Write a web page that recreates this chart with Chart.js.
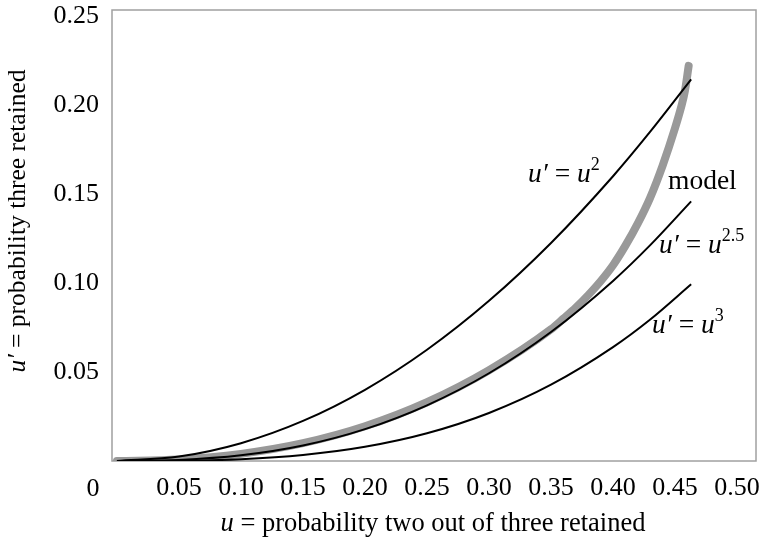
<!DOCTYPE html>
<html><head><meta charset="utf-8">
<script src="https://cdn.jsdelivr.net/npm/chart.js@4/dist/chart.umd.min.js"></script>
<style>html,body{margin:0;padding:0;background:#fff;}</style>
</head><body>
<canvas id="c" width="762" height="544"></canvas>
<script>
// ---- data ----
const xTickValues = [0.05, 0.10, 0.15, 0.20, 0.25, 0.30, 0.35, 0.40, 0.45, 0.50];
const yTickValues = [0.05, 0.10, 0.15, 0.20, 0.25];
const originLabel = "0";

const uPow   = [0, 0.05, 0.10, 0.15, 0.20, 0.25, 0.30, 0.35, 0.40, 0.43, 0.463];
const sq     = [0, 0.0025, 0.0100, 0.0225, 0.0400, 0.0625, 0.0900, 0.1225, 0.1600, 0.1850, 0.2144];
const pow25  = [0, 0.0006, 0.0032, 0.0087, 0.0179, 0.0313, 0.0493, 0.0725, 0.1012, 0.1213, 0.1459];
const cube   = [0, 0.0001, 0.0010, 0.0034, 0.0080, 0.0156, 0.0270, 0.0429, 0.0640, 0.0795, 0.0993];

const uModel = [0, 0.05, 0.10, 0.15, 0.20, 0.25, 0.30, 0.35, 0.36, 0.37, 0.38, 0.39, 0.40, 0.41, 0.42, 0.43, 0.44, 0.45, 0.455, 0.458, 0.461];
const model  = [0, 0.0008, 0.0040, 0.0100, 0.0195, 0.0330, 0.0510, 0.0740, 0.0800, 0.0862, 0.0932, 0.1010, 0.1100, 0.1210, 0.1335, 0.1480, 0.1660, 0.1870, 0.1990, 0.2080, 0.2220];

const FONT = '"Liberation Serif", "Times New Roman", serif';

function pts(xs, ys) { return xs.map((x, i) => ({x: x, y: ys[i]})); }

function drawRich(ctx, parts, x, y, size, align) {
  // parts: [text, style] style: 'i' italic, 'n' normal, 's' superscript
  const fontOf = st => st === 'i' ? `italic ${size}px ${FONT}` : st === 's' ? `${Math.round(size*0.65)}px ${FONT}` : `${size}px ${FONT}`;
  let total = 0;
  const widths = parts.map(p => { ctx.font = fontOf(p[1]); const w = ctx.measureText(p[0]).width; total += w; return w; });
  let cx = align === 'center' ? x - total / 2 : x;
  parts.forEach((p, i) => {
    ctx.font = fontOf(p[1]);
    ctx.fillText(p[0], cx, p[1] === 's' ? y - size * 0.42 : y);
    cx += widths[i];
  });
}

const textPlugin = {
  id: 'texts',
  beforeDatasetsDraw(chart) {
    const {ctx, chartArea: a} = chart;
    ctx.save();
    ctx.strokeStyle = '#a0a0a0';
    ctx.lineWidth = 1.5;
    ctx.strokeRect(a.left, a.top, a.right - a.left, a.bottom - a.top);
    ctx.restore();
  },
  afterDraw(chart) {
    const ctx = chart.ctx;
    ctx.save();
    ctx.fillStyle = '#000';
    ctx.textBaseline = 'alphabetic';
    // origin label
    ctx.font = `26px ${FONT}`;
    ctx.textAlign = 'center';
    ctx.fillText(originLabel, 93, 496);
    ctx.textAlign = 'left';
    // axis titles
    drawRich(ctx, [['u', 'i'], [' = probability two out of three retained', 'n']], 433, 531, 26.5, 'center');
    ctx.save();
    ctx.translate(25, 221);
    ctx.rotate(-Math.PI / 2);
    drawRich(ctx, [['u', 'i'], ['\u2032', 'i'], [' = probability three retained', 'n']], 0, 0, 25.5, 'center');
    ctx.restore();
    // curve annotations
    drawRich(ctx, [['u', 'i'], ['\u2032', 'i'], [' = ', 'n'], ['u', 'i'], ['2', 's']], 528, 182, 27.5, 'left');
    ctx.font = `27.5px ${FONT}`;
    ctx.fillText('model', 668, 189);
    drawRich(ctx, [['u', 'i'], ['\u2032', 'i'], [' = ', 'n'], ['u', 'i'], ['2.5', 's']], 659, 253, 27.5, 'left');
    drawRich(ctx, [['u', 'i'], ['\u2032', 'i'], [' = ', 'n'], ['u', 'i'], ['3', 's']], 652, 333, 27.5, 'left');
    ctx.restore();
  }
};

const blackLine = (data) => ({
  data: data, borderColor: '#000', borderWidth: 2, pointRadius: 0,
  cubicInterpolationMode: 'monotone', fill: false, order: 0
});

new Chart(document.getElementById('c'), {
  type: 'line',
  data: {
    datasets: [
      blackLine(pts(uPow, sq)),
      blackLine(pts(uPow, pow25)),
      blackLine(pts(uPow, cube)),
      { data: pts(uModel, model), borderColor: '#999999', borderWidth: 8, pointRadius: 0,
        cubicInterpolationMode: 'monotone', borderCapStyle: 'round', borderJoinStyle: 'round', fill: false, order: 10 }
    ]
  },
  options: {
    responsive: false,
    animation: false,
    events: [],
    layout: { padding: { top: 10, right: 6, left: 0, bottom: 0 } },
    plugins: { legend: { display: false }, tooltip: { enabled: false } },
    scales: {
      x: {
        type: 'linear', min: -0.004, max: 0.5153,
        afterBuildTicks: s => { s.ticks = xTickValues.map(v => ({value: v})); },
        afterFit: s => { s.height = 83; s.paddingLeft = 0; s.paddingRight = 0; },
        ticks: { callback: v => Number(v).toFixed(2), font: { family: FONT, size: 26 }, color: '#000',
                 padding: 12, maxRotation: 0, minRotation: 0, autoSkip: false },
        grid: { display: false, drawTicks: false },
        border: { display: false }
      },
      y: {
        type: 'linear', min: 0, max: 0.2534,
        afterBuildTicks: s => { s.ticks = yTickValues.map(v => ({value: v})); },
        afterFit: s => { s.width = 112; s.paddingTop = 0; s.paddingBottom = 0; },
        ticks: { callback: v => Number(v).toFixed(2), font: { family: FONT, size: 26 }, color: '#000',
                 padding: 13, autoSkip: false },
        grid: { display: false, drawTicks: false },
        border: { display: false }
      }
    }
  },
  plugins: [textPlugin]
});
</script>
</body></html>
